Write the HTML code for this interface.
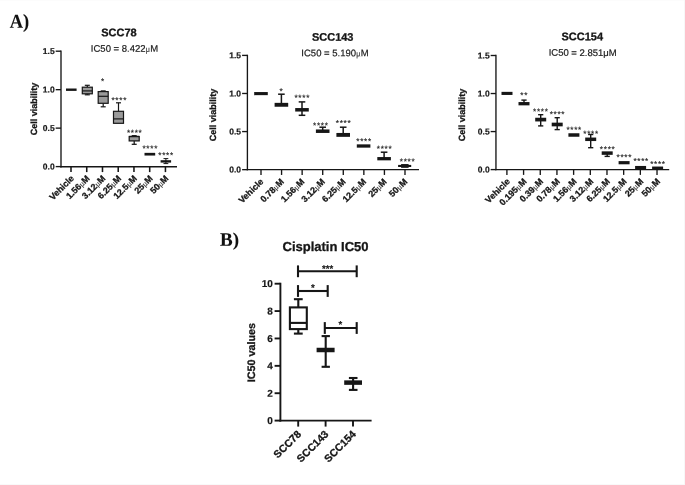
<!DOCTYPE html>
<html lang="en"><head><meta charset="utf-8"><title>Cisplatin IC50 figure</title>
<style>
html,body{margin:0;padding:0;background:#fff;}
body{width:685px;height:485px;overflow:hidden;position:relative;}
svg{display:block;position:absolute;left:0;top:0;}
.s{font-family:"Liberation Sans",Arial,Helvetica,sans-serif;}
.f{font-family:"Liberation Serif","Times New Roman",serif;}
.mu{font-family:"Liberation Serif","DejaVu Serif",serif;font-weight:normal;fill:#444;font-size:0.92em;stroke-width:0.1px;}
.st{fill:#333;}
.edge{position:absolute;background:#f9f9f9;}
</style></head>
<body>
<div class="edge" style="left:0;top:0;width:685px;height:1px;background:#fcfcfc"></div>
<div class="edge" style="left:0;top:484px;width:685px;height:1px"></div>
<div class="edge" style="left:683.7px;top:0;width:1.3px;height:485px;background:#f7f7f7"></div>
<svg width="685" height="485" viewBox="0 0 685 485" text-rendering="geometricPrecision">
<text class="f" x="9.80" y="27.70" font-size="19.8" font-weight="bold" text-anchor="start" fill="#111" transform="rotate(0.05 9.80 27.70)" textLength="19.4" lengthAdjust="spacingAndGlyphs" stroke="#111" stroke-width="0.1">A)</text>
<text class="f" x="220.00" y="245.80" font-size="19" font-weight="bold" text-anchor="start" fill="#111" transform="rotate(0.05 220.00 245.80)" stroke="#111" stroke-width="0.1">B)</text>
<line x1="61.00" y1="50.53" x2="61.00" y2="167.47" stroke="#161616" stroke-width="1.35" stroke-linecap="butt"/>
<line x1="60.33" y1="166.80" x2="177.00" y2="166.80" stroke="#161616" stroke-width="1.6" stroke-linecap="butt"/>
<line x1="55.70" y1="51.20" x2="61.00" y2="51.20" stroke="#161616" stroke-width="1.35" stroke-linecap="butt"/>
<text class="s" x="54.70" y="54.12" font-size="8.5" font-weight="bold" text-anchor="end" fill="#161616" transform="rotate(0.05 54.70 54.12)" stroke="#161616" stroke-width="0.2">1.5</text>
<line x1="55.70" y1="89.67" x2="61.00" y2="89.67" stroke="#161616" stroke-width="1.35" stroke-linecap="butt"/>
<text class="s" x="54.70" y="92.59" font-size="8.5" font-weight="bold" text-anchor="end" fill="#161616" transform="rotate(0.05 54.70 92.59)" stroke="#161616" stroke-width="0.2">1.0</text>
<line x1="55.70" y1="128.13" x2="61.00" y2="128.13" stroke="#161616" stroke-width="1.35" stroke-linecap="butt"/>
<text class="s" x="54.70" y="131.06" font-size="8.5" font-weight="bold" text-anchor="end" fill="#161616" transform="rotate(0.05 54.70 131.06)" stroke="#161616" stroke-width="0.2">0.5</text>
<line x1="55.70" y1="166.60" x2="61.00" y2="166.60" stroke="#161616" stroke-width="1.35" stroke-linecap="butt"/>
<text class="s" x="54.70" y="169.52" font-size="8.5" font-weight="bold" text-anchor="end" fill="#161616" transform="rotate(0.05 54.70 169.52)" stroke="#161616" stroke-width="0.2">0.0</text>
<line x1="71.00" y1="166.80" x2="71.00" y2="172.10" stroke="#161616" stroke-width="1.55" stroke-linecap="butt"/>
<line x1="86.74" y1="166.80" x2="86.74" y2="172.10" stroke="#161616" stroke-width="1.55" stroke-linecap="butt"/>
<line x1="102.48" y1="166.80" x2="102.48" y2="172.10" stroke="#161616" stroke-width="1.55" stroke-linecap="butt"/>
<line x1="118.22" y1="166.80" x2="118.22" y2="172.10" stroke="#161616" stroke-width="1.55" stroke-linecap="butt"/>
<line x1="133.96" y1="166.80" x2="133.96" y2="172.10" stroke="#161616" stroke-width="1.55" stroke-linecap="butt"/>
<line x1="149.70" y1="166.80" x2="149.70" y2="172.10" stroke="#161616" stroke-width="1.55" stroke-linecap="butt"/>
<line x1="165.44" y1="166.80" x2="165.44" y2="172.10" stroke="#161616" stroke-width="1.55" stroke-linecap="butt"/>
<text class="s" x="74.60" y="179.00" font-size="8.9" font-weight="bold" text-anchor="end" fill="#161616" transform="rotate(-45 74.60 179.00)" stroke="#161616" stroke-width="0.3">Vehicle</text>
<text class="s" x="90.34" y="179.00" font-size="8.9" font-weight="bold" text-anchor="end" fill="#161616" transform="rotate(-45 90.34 179.00)" stroke="#161616" stroke-width="0.3">1.56<tspan class="mu">μ</tspan>M</text>
<text class="s" x="106.08" y="179.00" font-size="8.9" font-weight="bold" text-anchor="end" fill="#161616" transform="rotate(-45 106.08 179.00)" stroke="#161616" stroke-width="0.3">3.12<tspan class="mu">μ</tspan>M</text>
<text class="s" x="121.82" y="179.00" font-size="8.9" font-weight="bold" text-anchor="end" fill="#161616" transform="rotate(-45 121.82 179.00)" stroke="#161616" stroke-width="0.3">6.25<tspan class="mu">μ</tspan>M</text>
<text class="s" x="137.56" y="179.00" font-size="8.9" font-weight="bold" text-anchor="end" fill="#161616" transform="rotate(-45 137.56 179.00)" stroke="#161616" stroke-width="0.3">12.5<tspan class="mu">μ</tspan>M</text>
<text class="s" x="153.30" y="179.00" font-size="8.9" font-weight="bold" text-anchor="end" fill="#161616" transform="rotate(-45 153.30 179.00)" stroke="#161616" stroke-width="0.3">25<tspan class="mu">μ</tspan>M</text>
<text class="s" x="169.04" y="179.00" font-size="8.9" font-weight="bold" text-anchor="end" fill="#161616" transform="rotate(-45 169.04 179.00)" stroke="#161616" stroke-width="0.3">50<tspan class="mu">μ</tspan>M</text>
<text class="s" x="119.00" y="36.20" font-size="11" font-weight="bold" text-anchor="middle" fill="#161616" transform="rotate(0.05 119.00 36.20)" stroke="#161616" stroke-width="0.3">SCC78</text>
<text class="s" x="124.50" y="51.80" font-size="9.5" font-weight="normal" text-anchor="middle" fill="#1a1a1a" transform="rotate(0.05 124.50 51.80)" stroke="#1a1a1a" stroke-width="0.2">IC50 = 8.422<tspan class="mu">μ</tspan>M</text>
<text class="s" x="36.90" y="109.00" font-size="9" font-weight="bold" text-anchor="middle" fill="#161616" transform="rotate(-90 36.90 109.00)" stroke="#161616" stroke-width="0.3">Cell viability</text>
<line x1="66.00" y1="89.70" x2="76.60" y2="89.70" stroke="#161616" stroke-width="2.4" stroke-linecap="butt"/>
<line x1="87.30" y1="85.30" x2="87.30" y2="87.20" stroke="#161616" stroke-width="1.2" stroke-linecap="butt"/>
<line x1="84.80" y1="85.30" x2="89.80" y2="85.30" stroke="#161616" stroke-width="1.2" stroke-linecap="butt"/>
<line x1="87.30" y1="93.80" x2="87.30" y2="94.80" stroke="#161616" stroke-width="1.2" stroke-linecap="butt"/>
<line x1="84.80" y1="94.80" x2="89.80" y2="94.80" stroke="#161616" stroke-width="1.2" stroke-linecap="butt"/>
<rect x="82.30" y="87.20" width="10.00" height="6.60" fill="#9a9a9a" stroke="#161616" stroke-width="1.2"/>
<line x1="82.30" y1="90.90" x2="92.30" y2="90.90" stroke="#161616" stroke-width="1.2" stroke-linecap="butt"/>
<line x1="103.20" y1="90.90" x2="103.20" y2="91.60" stroke="#161616" stroke-width="1.2" stroke-linecap="butt"/>
<line x1="100.70" y1="90.90" x2="105.70" y2="90.90" stroke="#161616" stroke-width="1.2" stroke-linecap="butt"/>
<line x1="103.20" y1="103.30" x2="103.20" y2="106.80" stroke="#161616" stroke-width="1.2" stroke-linecap="butt"/>
<line x1="100.70" y1="106.80" x2="105.70" y2="106.80" stroke="#161616" stroke-width="1.2" stroke-linecap="butt"/>
<rect x="98.20" y="91.60" width="10.00" height="11.70" fill="#9a9a9a" stroke="#161616" stroke-width="1.2"/>
<line x1="98.20" y1="96.30" x2="108.20" y2="96.30" stroke="#161616" stroke-width="1.2" stroke-linecap="butt"/>
<line x1="118.50" y1="102.80" x2="118.50" y2="111.30" stroke="#161616" stroke-width="1.2" stroke-linecap="butt"/>
<line x1="116.00" y1="102.80" x2="121.00" y2="102.80" stroke="#161616" stroke-width="1.2" stroke-linecap="butt"/>
<rect x="113.50" y="111.30" width="10.00" height="12.00" fill="#9a9a9a" stroke="#161616" stroke-width="1.2"/>
<line x1="113.50" y1="118.90" x2="123.50" y2="118.90" stroke="#161616" stroke-width="1.2" stroke-linecap="butt"/>
<line x1="134.20" y1="135.70" x2="134.20" y2="136.50" stroke="#161616" stroke-width="1.25" stroke-linecap="butt"/>
<line x1="131.70" y1="135.70" x2="136.70" y2="135.70" stroke="#161616" stroke-width="1.25" stroke-linecap="butt"/>
<line x1="134.20" y1="140.90" x2="134.20" y2="144.30" stroke="#161616" stroke-width="1.25" stroke-linecap="butt"/>
<line x1="131.70" y1="144.30" x2="136.70" y2="144.30" stroke="#161616" stroke-width="1.25" stroke-linecap="butt"/>
<rect x="129.20" y="136.50" width="10.00" height="4.40" fill="#9a9a9a" stroke="#161616" stroke-width="1.25"/>
<line x1="129.20" y1="136.50" x2="139.20" y2="136.50" stroke="#161616" stroke-width="1.25" stroke-linecap="butt"/>
<line x1="144.50" y1="154.20" x2="155.20" y2="154.20" stroke="#161616" stroke-width="2.7" stroke-linecap="butt"/>
<line x1="160.60" y1="161.40" x2="171.10" y2="161.40" stroke="#161616" stroke-width="2.4" stroke-linecap="butt"/>
<line x1="165.90" y1="158.60" x2="165.90" y2="163.60" stroke="#161616" stroke-width="1.0" stroke-linecap="butt"/>
<line x1="163.50" y1="158.60" x2="168.30" y2="158.60" stroke="#161616" stroke-width="1.0" stroke-linecap="butt"/>
<line x1="163.50" y1="163.60" x2="168.30" y2="163.60" stroke="#161616" stroke-width="1.0" stroke-linecap="butt"/>
<text class="s" x="102.85" y="84.00" font-size="8.2" font-weight="normal" text-anchor="middle" fill="#222" transform="rotate(0.05 102.85 84.00)" letter-spacing="0.70" stroke="#222" stroke-width="0.15">*</text>
<text class="s" x="119.25" y="103.10" font-size="8.2" font-weight="normal" text-anchor="middle" fill="#222" transform="rotate(0.05 119.25 103.10)" letter-spacing="0.70" stroke="#222" stroke-width="0.15">****</text>
<text class="s" x="134.65" y="135.60" font-size="8.2" font-weight="normal" text-anchor="middle" fill="#222" transform="rotate(0.05 134.65 135.60)" letter-spacing="0.70" stroke="#222" stroke-width="0.15">****</text>
<text class="s" x="150.25" y="151.20" font-size="8.2" font-weight="normal" text-anchor="middle" fill="#222" transform="rotate(0.05 150.25 151.20)" letter-spacing="0.70" stroke="#222" stroke-width="0.15">****</text>
<text class="s" x="166.05" y="158.00" font-size="8.2" font-weight="normal" text-anchor="middle" fill="#222" transform="rotate(0.05 166.05 158.00)" letter-spacing="0.70" stroke="#222" stroke-width="0.15">****</text>
<line x1="247.40" y1="54.73" x2="247.40" y2="170.33" stroke="#161616" stroke-width="1.35" stroke-linecap="butt"/>
<line x1="246.72" y1="169.65" x2="419.00" y2="169.65" stroke="#161616" stroke-width="1.35" stroke-linecap="butt"/>
<line x1="242.10" y1="55.40" x2="247.40" y2="55.40" stroke="#161616" stroke-width="1.35" stroke-linecap="butt"/>
<text class="s" x="241.10" y="58.32" font-size="8.5" font-weight="bold" text-anchor="end" fill="#161616" transform="rotate(0.05 241.10 58.32)" stroke="#161616" stroke-width="0.2">1.5</text>
<line x1="242.10" y1="93.48" x2="247.40" y2="93.48" stroke="#161616" stroke-width="1.35" stroke-linecap="butt"/>
<text class="s" x="241.10" y="96.41" font-size="8.5" font-weight="bold" text-anchor="end" fill="#161616" transform="rotate(0.05 241.10 96.41)" stroke="#161616" stroke-width="0.2">1.0</text>
<line x1="242.10" y1="131.57" x2="247.40" y2="131.57" stroke="#161616" stroke-width="1.35" stroke-linecap="butt"/>
<text class="s" x="241.10" y="134.49" font-size="8.5" font-weight="bold" text-anchor="end" fill="#161616" transform="rotate(0.05 241.10 134.49)" stroke="#161616" stroke-width="0.2">0.5</text>
<line x1="242.10" y1="169.65" x2="247.40" y2="169.65" stroke="#161616" stroke-width="1.35" stroke-linecap="butt"/>
<text class="s" x="241.10" y="172.57" font-size="8.5" font-weight="bold" text-anchor="end" fill="#161616" transform="rotate(0.05 241.10 172.57)" stroke="#161616" stroke-width="0.2">0.0</text>
<line x1="261.00" y1="169.65" x2="261.00" y2="174.95" stroke="#161616" stroke-width="1.35" stroke-linecap="butt"/>
<line x1="281.57" y1="169.65" x2="281.57" y2="174.95" stroke="#161616" stroke-width="1.35" stroke-linecap="butt"/>
<line x1="302.14" y1="169.65" x2="302.14" y2="174.95" stroke="#161616" stroke-width="1.35" stroke-linecap="butt"/>
<line x1="322.71" y1="169.65" x2="322.71" y2="174.95" stroke="#161616" stroke-width="1.35" stroke-linecap="butt"/>
<line x1="343.28" y1="169.65" x2="343.28" y2="174.95" stroke="#161616" stroke-width="1.35" stroke-linecap="butt"/>
<line x1="363.85" y1="169.65" x2="363.85" y2="174.95" stroke="#161616" stroke-width="1.35" stroke-linecap="butt"/>
<line x1="384.42" y1="169.65" x2="384.42" y2="174.95" stroke="#161616" stroke-width="1.35" stroke-linecap="butt"/>
<line x1="404.99" y1="169.65" x2="404.99" y2="174.95" stroke="#161616" stroke-width="1.35" stroke-linecap="butt"/>
<text class="s" x="263.90" y="182.15" font-size="8.9" font-weight="bold" text-anchor="end" fill="#161616" transform="rotate(-45 263.90 182.15)" stroke="#161616" stroke-width="0.3">Vehicle</text>
<text class="s" x="284.47" y="182.15" font-size="8.9" font-weight="bold" text-anchor="end" fill="#161616" transform="rotate(-45 284.47 182.15)" stroke="#161616" stroke-width="0.3">0.78<tspan class="mu">μ</tspan>M</text>
<text class="s" x="305.04" y="182.15" font-size="8.9" font-weight="bold" text-anchor="end" fill="#161616" transform="rotate(-45 305.04 182.15)" stroke="#161616" stroke-width="0.3">1.56<tspan class="mu">μ</tspan>M</text>
<text class="s" x="325.61" y="182.15" font-size="8.9" font-weight="bold" text-anchor="end" fill="#161616" transform="rotate(-45 325.61 182.15)" stroke="#161616" stroke-width="0.3">3.12<tspan class="mu">μ</tspan>M</text>
<text class="s" x="346.18" y="182.15" font-size="8.9" font-weight="bold" text-anchor="end" fill="#161616" transform="rotate(-45 346.18 182.15)" stroke="#161616" stroke-width="0.3">6.25<tspan class="mu">μ</tspan>M</text>
<text class="s" x="366.75" y="182.15" font-size="8.9" font-weight="bold" text-anchor="end" fill="#161616" transform="rotate(-45 366.75 182.15)" stroke="#161616" stroke-width="0.3">12.5<tspan class="mu">μ</tspan>M</text>
<text class="s" x="387.32" y="182.15" font-size="8.9" font-weight="bold" text-anchor="end" fill="#161616" transform="rotate(-45 387.32 182.15)" stroke="#161616" stroke-width="0.3">25<tspan class="mu">μ</tspan>M</text>
<text class="s" x="407.89" y="182.15" font-size="8.9" font-weight="bold" text-anchor="end" fill="#161616" transform="rotate(-45 407.89 182.15)" stroke="#161616" stroke-width="0.3">50<tspan class="mu">μ</tspan>M</text>
<text class="s" x="332.70" y="40.70" font-size="11" font-weight="bold" text-anchor="middle" fill="#161616" transform="rotate(0.05 332.70 40.70)" stroke="#161616" stroke-width="0.3">SCC143</text>
<text class="s" x="335.00" y="56.20" font-size="9.5" font-weight="normal" text-anchor="middle" fill="#1a1a1a" transform="rotate(0.05 335.00 56.20)" stroke="#1a1a1a" stroke-width="0.2">IC50 = 5.190<tspan class="mu">μ</tspan>M</text>
<text class="s" x="216.00" y="115.00" font-size="9" font-weight="bold" text-anchor="middle" fill="#161616" transform="rotate(-90 216.00 115.00)" stroke="#161616" stroke-width="0.3">Cell viability</text>
<line x1="254.20" y1="93.60" x2="267.80" y2="93.60" stroke="#161616" stroke-width="3.0999999999999996" stroke-linecap="butt"/>
<line x1="281.40" y1="94.20" x2="281.40" y2="104.80" stroke="#161616" stroke-width="1.5" stroke-linecap="butt"/>
<line x1="278.10" y1="94.20" x2="284.70" y2="94.20" stroke="#161616" stroke-width="1.5" stroke-linecap="butt"/>
<line x1="274.60" y1="104.80" x2="288.20" y2="104.80" stroke="#161616" stroke-width="3.9" stroke-linecap="butt"/>
<line x1="302.00" y1="101.90" x2="302.00" y2="109.80" stroke="#161616" stroke-width="1.5" stroke-linecap="butt"/>
<line x1="298.70" y1="101.90" x2="305.30" y2="101.90" stroke="#161616" stroke-width="1.5" stroke-linecap="butt"/>
<line x1="302.00" y1="109.80" x2="302.00" y2="115.30" stroke="#161616" stroke-width="1.5" stroke-linecap="butt"/>
<line x1="298.70" y1="115.30" x2="305.30" y2="115.30" stroke="#161616" stroke-width="1.5" stroke-linecap="butt"/>
<line x1="295.20" y1="109.80" x2="308.80" y2="109.80" stroke="#161616" stroke-width="3.5" stroke-linecap="butt"/>
<line x1="322.70" y1="127.20" x2="322.70" y2="131.20" stroke="#161616" stroke-width="1.5" stroke-linecap="butt"/>
<line x1="319.40" y1="127.20" x2="326.00" y2="127.20" stroke="#161616" stroke-width="1.5" stroke-linecap="butt"/>
<line x1="315.90" y1="131.20" x2="329.50" y2="131.20" stroke="#161616" stroke-width="3.5" stroke-linecap="butt"/>
<line x1="343.20" y1="127.20" x2="343.20" y2="134.90" stroke="#161616" stroke-width="1.5" stroke-linecap="butt"/>
<line x1="339.90" y1="127.20" x2="346.50" y2="127.20" stroke="#161616" stroke-width="1.5" stroke-linecap="butt"/>
<line x1="336.40" y1="134.90" x2="350.00" y2="134.90" stroke="#161616" stroke-width="3.9" stroke-linecap="butt"/>
<line x1="356.80" y1="146.00" x2="370.40" y2="146.00" stroke="#161616" stroke-width="3.3" stroke-linecap="butt"/>
<line x1="384.10" y1="152.20" x2="384.10" y2="158.70" stroke="#161616" stroke-width="1.5" stroke-linecap="butt"/>
<line x1="380.80" y1="152.20" x2="387.40" y2="152.20" stroke="#161616" stroke-width="1.5" stroke-linecap="butt"/>
<line x1="377.30" y1="158.70" x2="390.90" y2="158.70" stroke="#161616" stroke-width="3.3" stroke-linecap="butt"/>
<line x1="398.10" y1="165.95" x2="411.20" y2="165.95" stroke="#161616" stroke-width="2.1" stroke-linecap="butt"/>
<line x1="401.10" y1="165.95" x2="408.60" y2="165.95" stroke="#161616" stroke-width="3.8" stroke-linecap="butt"/>
<text class="s" x="281.55" y="94.10" font-size="8.2" font-weight="normal" text-anchor="middle" fill="#222" transform="rotate(0.05 281.55 94.10)" letter-spacing="0.70" stroke="#222" stroke-width="0.15">*</text>
<text class="s" x="302.25" y="100.60" font-size="8.2" font-weight="normal" text-anchor="middle" fill="#222" transform="rotate(0.05 302.25 100.60)" letter-spacing="0.70" stroke="#222" stroke-width="0.15">****</text>
<text class="s" x="320.85" y="128.20" font-size="8.2" font-weight="normal" text-anchor="middle" fill="#222" transform="rotate(0.05 320.85 128.20)" letter-spacing="0.70" stroke="#222" stroke-width="0.15">****</text>
<text class="s" x="343.55" y="125.70" font-size="8.2" font-weight="normal" text-anchor="middle" fill="#222" transform="rotate(0.05 343.55 125.70)" letter-spacing="0.70" stroke="#222" stroke-width="0.15">****</text>
<text class="s" x="364.05" y="144.00" font-size="8.2" font-weight="normal" text-anchor="middle" fill="#222" transform="rotate(0.05 364.05 144.00)" letter-spacing="0.70" stroke="#222" stroke-width="0.15">****</text>
<text class="s" x="384.55" y="151.50" font-size="8.2" font-weight="normal" text-anchor="middle" fill="#222" transform="rotate(0.05 384.55 151.50)" letter-spacing="0.70" stroke="#222" stroke-width="0.15">****</text>
<text class="s" x="407.55" y="164.30" font-size="8.2" font-weight="normal" text-anchor="middle" fill="#222" transform="rotate(0.05 407.55 164.30)" letter-spacing="0.70" stroke="#222" stroke-width="0.15">****</text>
<line x1="495.95" y1="54.83" x2="495.95" y2="170.28" stroke="#161616" stroke-width="1.35" stroke-linecap="butt"/>
<line x1="495.27" y1="169.60" x2="669.20" y2="169.60" stroke="#161616" stroke-width="1.35" stroke-linecap="butt"/>
<line x1="490.65" y1="55.50" x2="495.95" y2="55.50" stroke="#161616" stroke-width="1.35" stroke-linecap="butt"/>
<text class="s" x="489.65" y="58.42" font-size="8.5" font-weight="bold" text-anchor="end" fill="#161616" transform="rotate(0.05 489.65 58.42)" stroke="#161616" stroke-width="0.2">1.5</text>
<line x1="490.65" y1="93.53" x2="495.95" y2="93.53" stroke="#161616" stroke-width="1.35" stroke-linecap="butt"/>
<text class="s" x="489.65" y="96.46" font-size="8.5" font-weight="bold" text-anchor="end" fill="#161616" transform="rotate(0.05 489.65 96.46)" stroke="#161616" stroke-width="0.2">1.0</text>
<line x1="490.65" y1="131.57" x2="495.95" y2="131.57" stroke="#161616" stroke-width="1.35" stroke-linecap="butt"/>
<text class="s" x="489.65" y="134.49" font-size="8.5" font-weight="bold" text-anchor="end" fill="#161616" transform="rotate(0.05 489.65 134.49)" stroke="#161616" stroke-width="0.2">0.5</text>
<line x1="490.65" y1="169.60" x2="495.95" y2="169.60" stroke="#161616" stroke-width="1.35" stroke-linecap="butt"/>
<text class="s" x="489.65" y="172.52" font-size="8.5" font-weight="bold" text-anchor="end" fill="#161616" transform="rotate(0.05 489.65 172.52)" stroke="#161616" stroke-width="0.2">0.0</text>
<line x1="506.90" y1="169.60" x2="506.90" y2="174.90" stroke="#161616" stroke-width="1.35" stroke-linecap="butt"/>
<line x1="523.58" y1="169.60" x2="523.58" y2="174.90" stroke="#161616" stroke-width="1.35" stroke-linecap="butt"/>
<line x1="540.26" y1="169.60" x2="540.26" y2="174.90" stroke="#161616" stroke-width="1.35" stroke-linecap="butt"/>
<line x1="556.94" y1="169.60" x2="556.94" y2="174.90" stroke="#161616" stroke-width="1.35" stroke-linecap="butt"/>
<line x1="573.62" y1="169.60" x2="573.62" y2="174.90" stroke="#161616" stroke-width="1.35" stroke-linecap="butt"/>
<line x1="590.30" y1="169.60" x2="590.30" y2="174.90" stroke="#161616" stroke-width="1.35" stroke-linecap="butt"/>
<line x1="606.98" y1="169.60" x2="606.98" y2="174.90" stroke="#161616" stroke-width="1.35" stroke-linecap="butt"/>
<line x1="623.66" y1="169.60" x2="623.66" y2="174.90" stroke="#161616" stroke-width="1.35" stroke-linecap="butt"/>
<line x1="640.34" y1="169.60" x2="640.34" y2="174.90" stroke="#161616" stroke-width="1.35" stroke-linecap="butt"/>
<line x1="657.02" y1="169.60" x2="657.02" y2="174.90" stroke="#161616" stroke-width="1.35" stroke-linecap="butt"/>
<text class="s" x="510.50" y="182.00" font-size="8.9" font-weight="bold" text-anchor="end" fill="#161616" transform="rotate(-45 510.50 182.00)" stroke="#161616" stroke-width="0.3">Vehicle</text>
<text class="s" x="527.18" y="182.00" font-size="8.9" font-weight="bold" text-anchor="end" fill="#161616" transform="rotate(-45 527.18 182.00)" stroke="#161616" stroke-width="0.3">0.195<tspan class="mu">μ</tspan>M</text>
<text class="s" x="543.86" y="182.00" font-size="8.9" font-weight="bold" text-anchor="end" fill="#161616" transform="rotate(-45 543.86 182.00)" stroke="#161616" stroke-width="0.3">0.39<tspan class="mu">μ</tspan>M</text>
<text class="s" x="560.54" y="182.00" font-size="8.9" font-weight="bold" text-anchor="end" fill="#161616" transform="rotate(-45 560.54 182.00)" stroke="#161616" stroke-width="0.3">0.78<tspan class="mu">μ</tspan>M</text>
<text class="s" x="577.22" y="182.00" font-size="8.9" font-weight="bold" text-anchor="end" fill="#161616" transform="rotate(-45 577.22 182.00)" stroke="#161616" stroke-width="0.3">1.56<tspan class="mu">μ</tspan>M</text>
<text class="s" x="593.90" y="182.00" font-size="8.9" font-weight="bold" text-anchor="end" fill="#161616" transform="rotate(-45 593.90 182.00)" stroke="#161616" stroke-width="0.3">3.12<tspan class="mu">μ</tspan>M</text>
<text class="s" x="610.58" y="182.00" font-size="8.9" font-weight="bold" text-anchor="end" fill="#161616" transform="rotate(-45 610.58 182.00)" stroke="#161616" stroke-width="0.3">6.25<tspan class="mu">μ</tspan>M</text>
<text class="s" x="627.26" y="182.00" font-size="8.9" font-weight="bold" text-anchor="end" fill="#161616" transform="rotate(-45 627.26 182.00)" stroke="#161616" stroke-width="0.3">12.5<tspan class="mu">μ</tspan>M</text>
<text class="s" x="643.94" y="182.00" font-size="8.9" font-weight="bold" text-anchor="end" fill="#161616" transform="rotate(-45 643.94 182.00)" stroke="#161616" stroke-width="0.3">25<tspan class="mu">μ</tspan>M</text>
<text class="s" x="660.62" y="182.00" font-size="8.9" font-weight="bold" text-anchor="end" fill="#161616" transform="rotate(-45 660.62 182.00)" stroke="#161616" stroke-width="0.3">50<tspan class="mu">μ</tspan>M</text>
<text class="s" x="582.30" y="40.30" font-size="11" font-weight="bold" text-anchor="middle" fill="#161616" transform="rotate(0.05 582.30 40.30)" stroke="#161616" stroke-width="0.3">SCC154</text>
<text class="s" x="582.70" y="55.90" font-size="9.5" font-weight="normal" text-anchor="middle" fill="#1a1a1a" transform="rotate(0.05 582.70 55.90)" stroke="#1a1a1a" stroke-width="0.2">IC50 = 2.851μM</text>
<text class="s" x="464.60" y="115.00" font-size="9" font-weight="bold" text-anchor="middle" fill="#161616" transform="rotate(-90 464.60 115.00)" stroke="#161616" stroke-width="0.3">Cell viability</text>
<line x1="501.50" y1="93.40" x2="512.50" y2="93.40" stroke="#161616" stroke-width="3.0999999999999996" stroke-linecap="butt"/>
<line x1="524.00" y1="100.10" x2="524.00" y2="103.70" stroke="#161616" stroke-width="1.4" stroke-linecap="butt"/>
<line x1="521.40" y1="100.10" x2="526.60" y2="100.10" stroke="#161616" stroke-width="1.4" stroke-linecap="butt"/>
<line x1="518.50" y1="103.70" x2="529.50" y2="103.70" stroke="#161616" stroke-width="3.3" stroke-linecap="butt"/>
<line x1="540.70" y1="114.70" x2="540.70" y2="119.60" stroke="#161616" stroke-width="1.4" stroke-linecap="butt"/>
<line x1="538.10" y1="114.70" x2="543.30" y2="114.70" stroke="#161616" stroke-width="1.4" stroke-linecap="butt"/>
<line x1="540.70" y1="119.60" x2="540.70" y2="125.90" stroke="#161616" stroke-width="1.4" stroke-linecap="butt"/>
<line x1="538.10" y1="125.90" x2="543.30" y2="125.90" stroke="#161616" stroke-width="1.4" stroke-linecap="butt"/>
<line x1="535.20" y1="119.60" x2="546.20" y2="119.60" stroke="#161616" stroke-width="3.6999999999999997" stroke-linecap="butt"/>
<line x1="557.20" y1="117.70" x2="557.20" y2="124.50" stroke="#161616" stroke-width="1.4" stroke-linecap="butt"/>
<line x1="554.60" y1="117.70" x2="559.80" y2="117.70" stroke="#161616" stroke-width="1.4" stroke-linecap="butt"/>
<line x1="557.20" y1="124.50" x2="557.20" y2="129.60" stroke="#161616" stroke-width="1.4" stroke-linecap="butt"/>
<line x1="554.60" y1="129.60" x2="559.80" y2="129.60" stroke="#161616" stroke-width="1.4" stroke-linecap="butt"/>
<line x1="551.70" y1="124.50" x2="562.70" y2="124.50" stroke="#161616" stroke-width="3.6999999999999997" stroke-linecap="butt"/>
<line x1="568.40" y1="135.00" x2="579.40" y2="135.00" stroke="#161616" stroke-width="3.5" stroke-linecap="butt"/>
<line x1="590.70" y1="134.50" x2="590.70" y2="139.30" stroke="#161616" stroke-width="1.4" stroke-linecap="butt"/>
<line x1="588.10" y1="134.50" x2="593.30" y2="134.50" stroke="#161616" stroke-width="1.4" stroke-linecap="butt"/>
<line x1="590.70" y1="139.30" x2="590.70" y2="147.70" stroke="#161616" stroke-width="1.4" stroke-linecap="butt"/>
<line x1="588.10" y1="147.70" x2="593.30" y2="147.70" stroke="#161616" stroke-width="1.4" stroke-linecap="butt"/>
<line x1="585.20" y1="139.30" x2="596.20" y2="139.30" stroke="#161616" stroke-width="3.5" stroke-linecap="butt"/>
<line x1="607.20" y1="153.10" x2="607.20" y2="156.40" stroke="#161616" stroke-width="1.4" stroke-linecap="butt"/>
<line x1="604.60" y1="156.40" x2="609.80" y2="156.40" stroke="#161616" stroke-width="1.4" stroke-linecap="butt"/>
<line x1="601.70" y1="153.10" x2="612.70" y2="153.10" stroke="#161616" stroke-width="3.5" stroke-linecap="butt"/>
<line x1="618.60" y1="162.70" x2="629.60" y2="162.70" stroke="#161616" stroke-width="3.1999999999999997" stroke-linecap="butt"/>
<line x1="635.10" y1="167.60" x2="646.10" y2="167.60" stroke="#161616" stroke-width="3.3" stroke-linecap="butt"/>
<line x1="652.10" y1="168.00" x2="663.10" y2="168.00" stroke="#161616" stroke-width="2.9" stroke-linecap="butt"/>
<text class="s" x="524.15" y="97.90" font-size="8.2" font-weight="normal" text-anchor="middle" fill="#222" transform="rotate(0.05 524.15 97.90)" letter-spacing="0.70" stroke="#222" stroke-width="0.15">**</text>
<text class="s" x="540.85" y="114.30" font-size="8.2" font-weight="normal" text-anchor="middle" fill="#222" transform="rotate(0.05 540.85 114.30)" letter-spacing="0.70" stroke="#222" stroke-width="0.15">****</text>
<text class="s" x="557.45" y="117.10" font-size="8.2" font-weight="normal" text-anchor="middle" fill="#222" transform="rotate(0.05 557.45 117.10)" letter-spacing="0.70" stroke="#222" stroke-width="0.15">****</text>
<text class="s" x="574.15" y="132.60" font-size="8.2" font-weight="normal" text-anchor="middle" fill="#222" transform="rotate(0.05 574.15 132.60)" letter-spacing="0.70" stroke="#222" stroke-width="0.15">****</text>
<text class="s" x="591.05" y="136.40" font-size="8.2" font-weight="normal" text-anchor="middle" fill="#222" transform="rotate(0.05 591.05 136.40)" letter-spacing="0.70" stroke="#222" stroke-width="0.15">****</text>
<text class="s" x="607.65" y="151.90" font-size="8.2" font-weight="normal" text-anchor="middle" fill="#222" transform="rotate(0.05 607.65 151.90)" letter-spacing="0.70" stroke="#222" stroke-width="0.15">****</text>
<text class="s" x="624.35" y="160.10" font-size="8.2" font-weight="normal" text-anchor="middle" fill="#222" transform="rotate(0.05 624.35 160.10)" letter-spacing="0.70" stroke="#222" stroke-width="0.15">****</text>
<text class="s" x="641.15" y="163.80" font-size="8.2" font-weight="normal" text-anchor="middle" fill="#222" transform="rotate(0.05 641.15 163.80)" letter-spacing="0.70" stroke="#222" stroke-width="0.15">****</text>
<text class="s" x="657.95" y="166.80" font-size="8.2" font-weight="normal" text-anchor="middle" fill="#222" transform="rotate(0.05 657.95 166.80)" letter-spacing="0.70" stroke="#222" stroke-width="0.15">****</text>
<line x1="280.40" y1="282.75" x2="280.40" y2="421.55" stroke="#161616" stroke-width="1.9" stroke-linecap="butt"/>
<line x1="279.45" y1="420.60" x2="371.60" y2="420.60" stroke="#161616" stroke-width="1.9" stroke-linecap="butt"/>
<line x1="274.60" y1="283.70" x2="280.40" y2="283.70" stroke="#161616" stroke-width="1.9" stroke-linecap="butt"/>
<text class="s" x="272.80" y="287.14" font-size="10.0" font-weight="bold" text-anchor="end" fill="#161616" transform="rotate(0.05 272.80 287.14)" stroke="#161616" stroke-width="0.2">10</text>
<line x1="274.60" y1="311.08" x2="280.40" y2="311.08" stroke="#161616" stroke-width="1.9" stroke-linecap="butt"/>
<text class="s" x="272.80" y="314.52" font-size="10.0" font-weight="bold" text-anchor="end" fill="#161616" transform="rotate(0.05 272.80 314.52)" stroke="#161616" stroke-width="0.2">8</text>
<line x1="274.60" y1="338.46" x2="280.40" y2="338.46" stroke="#161616" stroke-width="1.9" stroke-linecap="butt"/>
<text class="s" x="272.80" y="341.90" font-size="10.0" font-weight="bold" text-anchor="end" fill="#161616" transform="rotate(0.05 272.80 341.90)" stroke="#161616" stroke-width="0.2">6</text>
<line x1="274.60" y1="365.84" x2="280.40" y2="365.84" stroke="#161616" stroke-width="1.9" stroke-linecap="butt"/>
<text class="s" x="272.80" y="369.28" font-size="10.0" font-weight="bold" text-anchor="end" fill="#161616" transform="rotate(0.05 272.80 369.28)" stroke="#161616" stroke-width="0.2">4</text>
<line x1="274.60" y1="393.22" x2="280.40" y2="393.22" stroke="#161616" stroke-width="1.9" stroke-linecap="butt"/>
<text class="s" x="272.80" y="396.66" font-size="10.0" font-weight="bold" text-anchor="end" fill="#161616" transform="rotate(0.05 272.80 396.66)" stroke="#161616" stroke-width="0.2">2</text>
<line x1="274.60" y1="420.60" x2="280.40" y2="420.60" stroke="#161616" stroke-width="1.9" stroke-linecap="butt"/>
<text class="s" x="272.80" y="424.04" font-size="10.0" font-weight="bold" text-anchor="end" fill="#161616" transform="rotate(0.05 272.80 424.04)" stroke="#161616" stroke-width="0.2">0</text>
<line x1="298.20" y1="420.60" x2="298.20" y2="426.60" stroke="#161616" stroke-width="1.9" stroke-linecap="butt"/>
<line x1="325.60" y1="420.60" x2="325.60" y2="426.60" stroke="#161616" stroke-width="1.9" stroke-linecap="butt"/>
<line x1="353.00" y1="420.60" x2="353.00" y2="426.60" stroke="#161616" stroke-width="1.9" stroke-linecap="butt"/>
<text class="s" x="301.80" y="434.80" font-size="10.5" font-weight="bold" text-anchor="end" fill="#161616" transform="rotate(-45 301.80 434.80)" stroke="#161616" stroke-width="0.3">SCC78</text>
<text class="s" x="329.20" y="434.80" font-size="10.5" font-weight="bold" text-anchor="end" fill="#161616" transform="rotate(-45 329.20 434.80)" stroke="#161616" stroke-width="0.3">SCC143</text>
<text class="s" x="356.60" y="434.80" font-size="10.5" font-weight="bold" text-anchor="end" fill="#161616" transform="rotate(-45 356.60 434.80)" stroke="#161616" stroke-width="0.3">SCC154</text>
<text class="s" x="325.50" y="251.00" font-size="13" font-weight="bold" text-anchor="middle" fill="#161616" transform="rotate(0.05 325.50 251.00)" stroke="#161616" stroke-width="0.3">Cisplatin IC50</text>
<text class="s" x="255.10" y="352.60" font-size="10.8" font-weight="bold" text-anchor="middle" fill="#161616" transform="rotate(-90 255.10 352.60)" stroke="#161616" stroke-width="0.3">IC50 values</text>
<line x1="298.30" y1="299.20" x2="298.30" y2="307.40" stroke="#161616" stroke-width="2.1" stroke-linecap="butt"/>
<line x1="293.90" y1="299.20" x2="302.70" y2="299.20" stroke="#161616" stroke-width="2.1" stroke-linecap="butt"/>
<line x1="298.30" y1="329.10" x2="298.30" y2="333.60" stroke="#161616" stroke-width="2.1" stroke-linecap="butt"/>
<line x1="293.90" y1="333.60" x2="302.70" y2="333.60" stroke="#161616" stroke-width="2.1" stroke-linecap="butt"/>
<rect x="289.90" y="307.40" width="16.90" height="21.70" fill="#fff" stroke="#161616" stroke-width="2.1"/>
<line x1="289.90" y1="322.90" x2="306.80" y2="322.90" stroke="#161616" stroke-width="2.1" stroke-linecap="butt"/>
<line x1="325.70" y1="336.10" x2="325.70" y2="366.80" stroke="#161616" stroke-width="2.1" stroke-linecap="butt"/>
<line x1="321.60" y1="336.10" x2="329.90" y2="336.10" stroke="#161616" stroke-width="2.1" stroke-linecap="butt"/>
<line x1="321.60" y1="366.80" x2="329.90" y2="366.80" stroke="#161616" stroke-width="2.1" stroke-linecap="butt"/>
<line x1="316.60" y1="350.00" x2="334.60" y2="350.00" stroke="#161616" stroke-width="4.5" stroke-linecap="butt"/>
<line x1="353.10" y1="378.00" x2="353.10" y2="389.90" stroke="#161616" stroke-width="2.1" stroke-linecap="butt"/>
<line x1="348.90" y1="378.00" x2="357.50" y2="378.00" stroke="#161616" stroke-width="2.1" stroke-linecap="butt"/>
<line x1="348.90" y1="389.90" x2="357.50" y2="389.90" stroke="#161616" stroke-width="2.1" stroke-linecap="butt"/>
<line x1="344.20" y1="382.60" x2="362.00" y2="382.60" stroke="#161616" stroke-width="4.5" stroke-linecap="butt"/>
<line x1="298.00" y1="271.30" x2="356.70" y2="271.30" stroke="#161616" stroke-width="2.1" stroke-linecap="butt"/>
<line x1="298.00" y1="265.40" x2="298.00" y2="277.20" stroke="#161616" stroke-width="2.1" stroke-linecap="butt"/>
<line x1="356.70" y1="265.40" x2="356.70" y2="277.20" stroke="#161616" stroke-width="2.1" stroke-linecap="butt"/>
<text class="s" x="327.70" y="271.95" font-size="9.66" font-weight="normal" text-anchor="middle" fill="#111" transform="rotate(0.05 327.70 271.95)" stroke="#111" stroke-width="0.35">***</text>
<line x1="298.00" y1="291.00" x2="327.70" y2="291.00" stroke="#161616" stroke-width="2.1" stroke-linecap="butt"/>
<line x1="298.00" y1="285.10" x2="298.00" y2="296.90" stroke="#161616" stroke-width="2.1" stroke-linecap="butt"/>
<line x1="327.70" y1="285.10" x2="327.70" y2="296.90" stroke="#161616" stroke-width="2.1" stroke-linecap="butt"/>
<text class="s" x="312.90" y="291.05" font-size="9.66" font-weight="normal" text-anchor="middle" fill="#111" transform="rotate(0.05 312.90 291.05)" stroke="#111" stroke-width="0.35">*</text>
<line x1="324.80" y1="328.00" x2="356.70" y2="328.00" stroke="#161616" stroke-width="2.1" stroke-linecap="butt"/>
<line x1="324.80" y1="322.10" x2="324.80" y2="333.90" stroke="#161616" stroke-width="2.1" stroke-linecap="butt"/>
<line x1="356.70" y1="322.10" x2="356.70" y2="333.90" stroke="#161616" stroke-width="2.1" stroke-linecap="butt"/>
<text class="s" x="340.50" y="327.65" font-size="9.66" font-weight="normal" text-anchor="middle" fill="#111" transform="rotate(0.05 340.50 327.65)" stroke="#111" stroke-width="0.35">*</text>
</svg>
</body></html>
